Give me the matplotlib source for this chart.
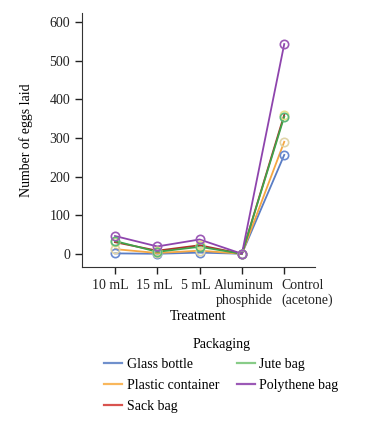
import matplotlib
matplotlib.use("Agg")
import matplotlib.pyplot as plt
from matplotlib.lines import Line2D
from matplotlib.transforms import ScaledTranslation

plt.rcParams['font.family'] = ['Liberation Serif', 'DejaVu Serif']

treatments = ["10 mL", "15 mL", "5 mL", "Aluminum\nphosphide", "Control\n(acetone)"]
packaging = ["Glass bottle", "Plastic container", "Sack bag", "Jute bag", "Polythene bag"]

glass_bottle = [1, 0, 3, 0, 256]
plastic_container = [12, 2, 8, 0, 290]
sack_bag = [30, 8, 22, 0, 360]
jute_bag = [33, 5, 18, 0, 355]
polythene_bag = [46, 19, 37, 0, 543]

values = [glass_bottle, plastic_container, sack_bag, jute_bag, polythene_bag]
line_colors = ["#5a7dc4", "#f5a742", "#b0302a", "#3fa34a", "#8e44ad"]
legend_colors = ["#7090cc", "#f9b75c", "#d9534f", "#88cc88", "#9b59b6"]
marker_colors = ["#6a8ad0", "#e0d4a8", "#e8e08a", "#5cb87a", "#9b59b6"]

fig = plt.figure(figsize=(3.66, 4.25), dpi=100)
ax = fig.add_axes([0.224, 0.372, 0.637, 0.597])

x = list(range(len(treatments)))
for vals, lc, mc in zip(values, line_colors, marker_colors):
    ax.plot(x, vals, color=lc, lw=1.3, zorder=2)
    ax.plot(x, vals, ls="none", marker="o", ms=6, mfc="none", mec=mc, mew=1.2, zorder=3)

ax.set_xlim(-0.78, 4.73)
ax.set_ylim(-34, 623)
ax.set_xticks(x)
ax.set_xticklabels(treatments, fontsize=10)
ax.set_yticks([0, 100, 200, 300, 400, 500, 600])
ax.tick_params(axis="both", labelsize=10, length=5, width=1, colors="#222222")
ax.spines["top"].set_visible(False)
ax.spines["right"].set_visible(False)
ax.spines["left"].set_color("#333333")
ax.spines["bottom"].set_color("#333333")
ax.set_xlabel("Treatment", fontsize=10, labelpad=2)
ax.set_ylabel("Number of eggs laid", fontsize=10, labelpad=12)

# nudge tick labels like the original layout (pixel offsets)
shifts = [-5, -3, -4, 2, -3]
for lbl, s in zip(ax.get_xticklabels(), shifts):
    lbl.set_transform(lbl.get_transform() + ScaledTranslation(s / 100, 0, fig.dpi_scale_trans))
ax.get_xticklabels()[-1].set_horizontalalignment("left")

handles = [Line2D([], [], color=c, lw=1.6) for c in legend_colors]
fig.legend(handles, packaging, ncol=2, title="Packaging", frameon=False,
           loc="upper center", bbox_to_anchor=(0.605, 0.235), fontsize=10,
           title_fontsize=10, handlelength=1.3, handletextpad=0.3,
           columnspacing=1.3, labelspacing=0.55)

fig.savefig("out.png", dpi=100)
